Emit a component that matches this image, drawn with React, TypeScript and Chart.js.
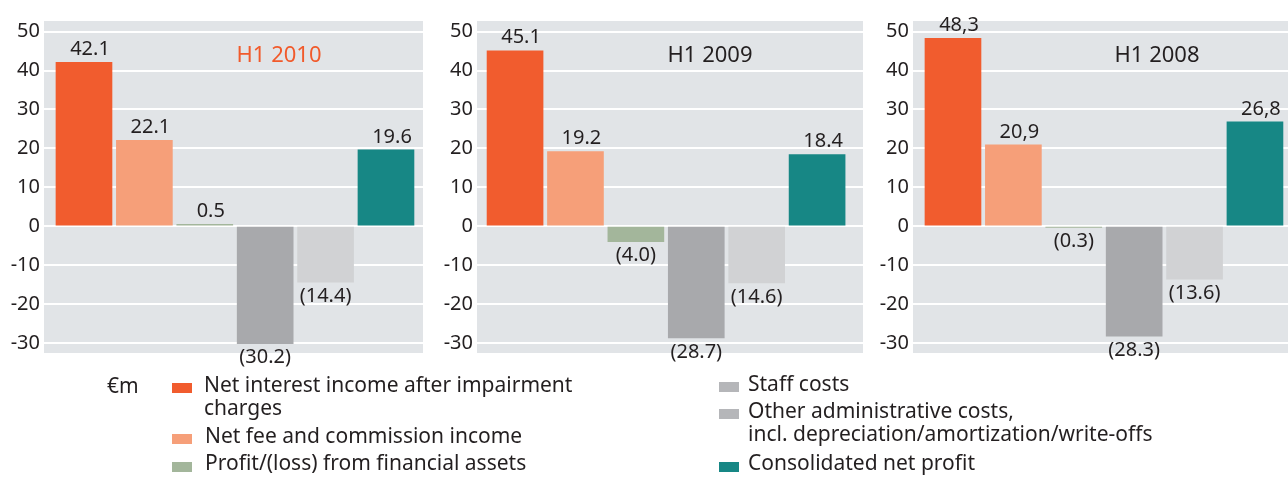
import React, { useEffect, useRef } from "react";
import { Chart, registerables } from "chart.js";

Chart.register(...registerables);

// ---------------- data ----------------
const CATEGORIES = [
  "Net interest income after impairment\ncharges",
  "Net fee and commission income",
  "Profit/(loss) from financial assets",
  "Staff costs",
  "Other administrative costs,\nincl. depreciation/amortization/write-offs",
  "Consolidated net profit",
];
const BAR_COLORS = ["#f15c2e", "#f69f79", "#a3b69b", "#a8a9ac", "#d1d2d4", "#178785"];
const SWATCH_COLORS = ["#f15c2e", "#f69f79", "#a3b69b", "#b5b6b9", "#b5b6b9", "#178785"];
const PANEL_TITLES = ["H1 2010", "H1 2009", "H1 2008"];
const TITLE_COLORS = ["#f15a2b", "#231f20", "#231f20"];
const VALUES_2010 = [42.1, 22.1, 0.5, -30.2, -14.4, 19.6];
const VALUES_2009 = [45.1, 19.2, -4.0, -28.7, -14.6, 18.4];
const VALUES_2008 = [48.3, 20.9, -0.3, -28.3, -13.6, 26.8];
const LABELS_2010 = ["42.1", "22.1", "0.5", "(30.2)", "(14.4)", "19.6"];
const LABELS_2009 = ["45.1", "19.2", "(4.0)", "(28.7)", "(14.6)", "18.4"];
const LABELS_2008 = ["48,3", "20,9", "(0.3)", "(28.3)", "(13.6)", "26,8"];
const Y_TICKS = [-30, -20, -10, 0, 10, 20, 30, 40, 50];
const UNIT = "€m";

// ---------------- layout / style ----------------
const FONT = "'Noto Sans', sans-serif";
const TEXT = "#231f20";
const PLOT_BG = "#e1e4e7";
const CANVAS_H = 375;
const Y_MIN = -32.6;
const Y_MAX = 52.75;

const PANEL_LAYOUT = [
  { left: 0, width: 430, padRight: 7, xMin: -0.662, xMax: 5.613, titleDx: 235 },
  { left: 433, width: 437, padRight: 7, xMin: -0.63, xMax: 5.76, titleDx: 233 },
  { left: 869, width: 433, padRight: 7, xMin: -0.662, xMax: 5.663, titleDx: 244 },
];
const PANEL_VALUES = [VALUES_2010, VALUES_2009, VALUES_2008];
const PANEL_LABELS = [LABELS_2010, LABELS_2009, LABELS_2008];

const LEGEND_POS = [
  { swLeft: 172, swTop: 383, txLeft: 204, txTop: 373 },
  { swLeft: 172, swTop: 434, txLeft: 205, txTop: 424 },
  { swLeft: 172, swTop: 462, txLeft: 205, txTop: 451 },
  { swLeft: 719, swTop: 382, txLeft: 748, txTop: 372 },
  { swLeft: 719, swTop: 409, txLeft: 748, txTop: 399 },
  { swLeft: 719, swTop: 462, txLeft: 748, txTop: 451 },
];

function Panel({ idx }: { idx: number }) {
  const ref = useRef<HTMLCanvasElement | null>(null);
  const L = PANEL_LAYOUT[idx];
  useEffect(() => {
    const values = PANEL_VALUES[idx];
    const labels = PANEL_LABELS[idx];
    const decor = {
      id: "decor" + idx,
      beforeDraw(chart: any) {
        const { ctx, chartArea: a } = chart;
        ctx.save();
        ctx.fillStyle = PLOT_BG;
        ctx.fillRect(a.left, a.top, a.right - a.left, a.bottom - a.top);
        ctx.restore();
      },
      afterDatasetsDraw(chart: any) {
        const { ctx, chartArea: a } = chart;
        ctx.save();
        ctx.font = `20px ${FONT}`;
        ctx.fillStyle = TEXT;
        ctx.textAlign = "center";
        ctx.textBaseline = "middle";
        const meta = chart.getDatasetMeta(0);
        meta.data.forEach((bar: any, i: number) => {
          const { x, y } = bar.getProps(["x", "y"], true);
          const v = values[i];
          if (v >= 0) ctx.fillText(labels[i], x + 6, y - 13);
          else ctx.fillText(labels[i], x, y + 14);
        });
        ctx.font = `22px ${FONT}`;
        ctx.fillStyle = TITLE_COLORS[idx];
        ctx.fillText(PANEL_TITLES[idx], a.left + L.titleDx, 56);
        ctx.restore();
      },
    };
    const chart = new Chart(ref.current as HTMLCanvasElement, {
      type: "bar",
      data: {
        datasets: [
          {
            label: PANEL_TITLES[idx],
            data: values.map((v, i) => ({ x: i, y: v })),
            backgroundColor: BAR_COLORS,
            barThickness: 56,
            borderWidth: 0,
          },
        ],
      },
      options: {
        responsive: false,
        animation: false,
        devicePixelRatio: 1,
        layout: { padding: { top: 21, bottom: CANVAS_H - 353, left: 0, right: L.padRight } },
        plugins: { legend: { display: false }, tooltip: { enabled: false }, title: { display: false } },
        scales: {
          x: { type: "linear", min: L.xMin, max: L.xMax, offset: false, display: false },
          y: {
            min: Y_MIN,
            max: Y_MAX,
            afterBuildTicks: (s: any) => {
              s.ticks = Y_TICKS.map((v) => ({ value: v }));
            },
            afterFit: (s: any) => {
              s.width = 44;
            },
            ticks: {
              font: { family: FONT, size: 20 },
              color: TEXT,
              padding: 4,
              callback: (v: any) => String(v),
            },
            grid: { color: "#ffffff", lineWidth: 2, drawTicks: false },
            border: { display: false },
          },
        },
      },
      plugins: [decor],
    } as any);
    return () => chart.destroy();
  }, []);
  return (
    <canvas
      ref={ref}
      width={L.width}
      height={CANVAS_H}
      style={{ position: "absolute", left: L.left, top: 0, width: L.width, height: CANVAS_H }}
    />
  );
}

export default function App() {
  return (
    <div
      style={{
        position: "absolute",
        left: 0,
        top: 0,
        width: 1288,
        height: 477,
        overflow: "hidden",
        background: "#ffffff",
        fontFamily: FONT,
        color: TEXT,
      }}
    >
      <Panel idx={0} />
      <Panel idx={1} />
      <Panel idx={2} />
      <div style={{ position: "absolute", left: 107, top: 374, fontSize: 21, lineHeight: "23px" }}>{UNIT}</div>
      {CATEGORIES.map((c, i) => (
        <React.Fragment key={i}>
          <div
            style={{
              position: "absolute",
              left: LEGEND_POS[i].swLeft,
              top: LEGEND_POS[i].swTop,
              width: 20,
              height: 10,
              background: SWATCH_COLORS[i],
            }}
          />
          <div
            style={{
              position: "absolute",
              left: LEGEND_POS[i].txLeft,
              top: LEGEND_POS[i].txTop,
              fontSize: 21,
              lineHeight: "23px",
              whiteSpace: "pre",
            }}
          >
            {c}
          </div>
        </React.Fragment>
      ))}
    </div>
  );
}
